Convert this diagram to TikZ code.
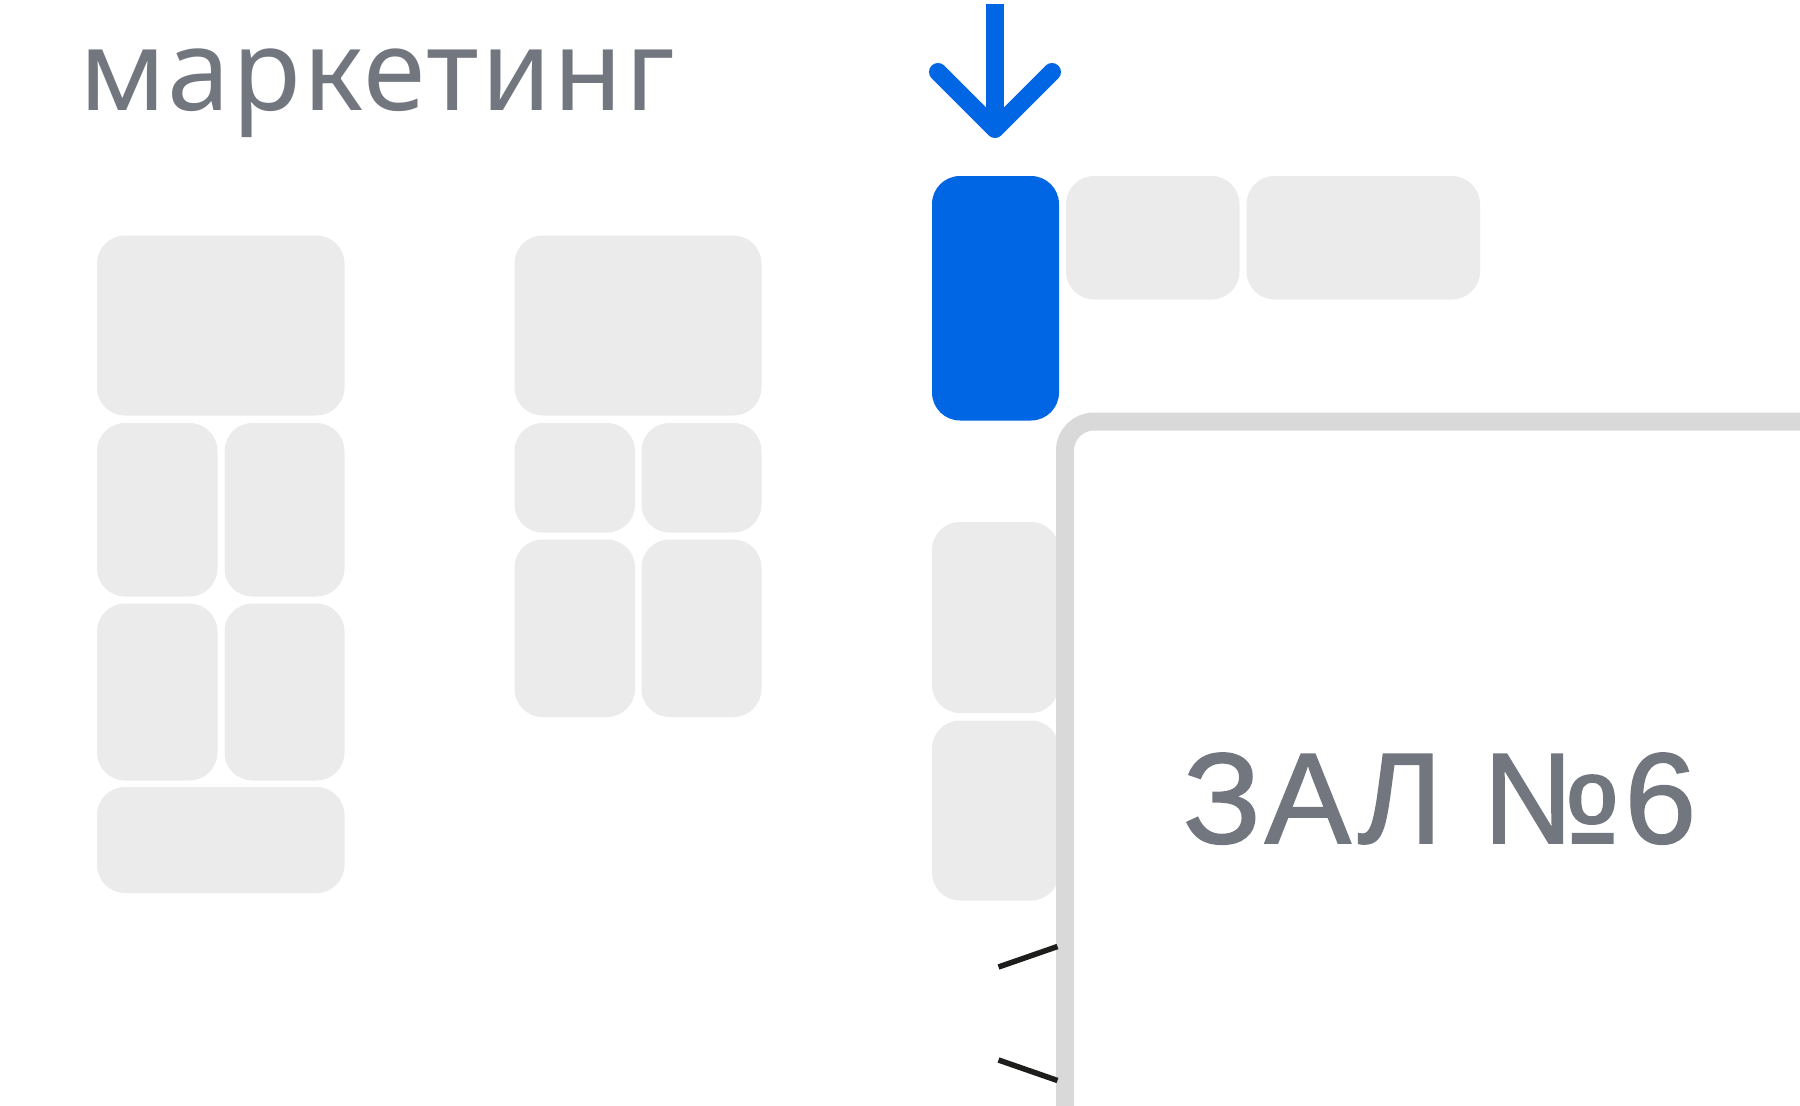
\documentclass[tikz,border=0pt]{standalone}
\usepackage{fontspec}
\setmainfont{Noto Sans}
\newfontfamily\titlefont[LetterSpace=1.9]{Noto Sans}
\newfontfamily\hallfont[LetterSpace=3.1,FakeBold=1.3]{Liberation Sans}
\definecolor{seatgrey}{HTML}{EBEBEB}
\definecolor{framegrey}{HTML}{D9D9D9}
\definecolor{selblue}{HTML}{0066E3}
\definecolor{labelgrey}{HTML}{72767F}
\definecolor{tickblack}{HTML}{1D1D1B}
\tikzset{
  seat/.style={fill=seatgrey,rounded corners=28pt},
  selseat/.style={fill=selblue,rounded corners=28pt},
  hallframe/.style={draw=framegrey,line width=18pt,rounded corners=29pt},
  arrowline/.style={draw=selblue,line width=18pt},
  tick/.style={draw=tickblack,line width=5.5pt},
  lbl/.style={text=labelgrey,anchor=base west,inner sep=0pt,outer sep=0pt}
}
\begin{document}
\begin{tikzpicture}[x=1pt,y=-1pt]
\useasboundingbox (0,0) rectangle (1800,1106);
% left block
\fill[seat] (97,235.5) rectangle (344.5,415.5);
\fill[seat] (97,423) rectangle (217.5,596.5);
\fill[seat] (224.5,423) rectangle (344.5,596.5);
\fill[seat] (97,603.5) rectangle (217.5,780.5);
\fill[seat] (224.5,603.5) rectangle (344.5,780.5);
\fill[seat] (97,787) rectangle (344.5,893);
% second block
\fill[seat] (514.5,235.5) rectangle (761.5,415.5);
\fill[seat] (514.5,423) rectangle (635,532.5);
\fill[seat] (641.5,423) rectangle (761.5,532.5);
\fill[seat] (514.5,539.5) rectangle (635,717);
\fill[seat] (641.5,539.5) rectangle (761.5,717);
% right block
\fill[selseat] (932,176) rectangle (1059,420.5);
\fill[seat] (1066,176) rectangle (1239.5,299.5);
\fill[seat] (1246.5,176) rectangle (1480,299.5);
\fill[seat] (932,522) rectangle (1059,713);
\fill[seat] (932,720.5) rectangle (1059,900.5);
% hall frame
\begin{scope}
\clip (0,0) rectangle (1800,1106);
\draw[hallframe] (1065,1130) -- (1065,421.5) -- (1830,421.5);
\end{scope}
% arrow
\draw[arrowline] (995,4) -- (995,128);
\draw[arrowline,line cap=round,line join=round] (938,72) -- (995,129) -- (1052,72);
% ticks
\coordinate (t1a) at (998.5,967);
\coordinate (t1b) at (1057.5,946.5);
\coordinate (t2a) at (998.5,1060);
\coordinate (t2b) at (1057.5,1080.5);
\draw[tick] (t1a) -- (t1b);
\draw[tick] (t2a) -- (t2b);
% labels
\node[lbl,font=\fontsize{113}{113}\titlefont] (title) at (79,110) {маркетинг};
\node[lbl,font=\fontsize{129}{129}\hallfont] (hall) at (1183,843) {ЗАЛ №6};
\end{tikzpicture}
\end{document}
